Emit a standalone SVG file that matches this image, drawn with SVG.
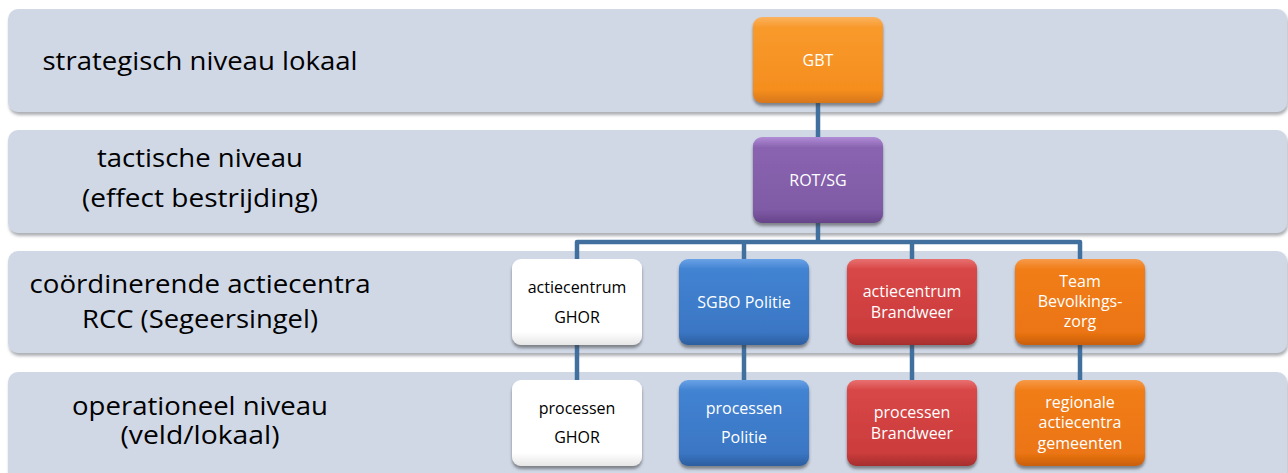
<svg xmlns="http://www.w3.org/2000/svg" width="1288" height="473" viewBox="0 0 1288 473">
  <defs>
    <filter id="bandShadow" x="-2%" y="-10%" width="104%" height="125%">
      <feGaussianBlur in="SourceAlpha" stdDeviation="1.5"/>
      <feOffset dx="1" dy="3" result="b"/>
      <feFlood flood-color="#6b6f78" flood-opacity="0.55"/>
      <feComposite in2="b" operator="in"/>
      <feMerge><feMergeNode/><feMergeNode in="SourceGraphic"/></feMerge>
    </filter>
    <filter id="nodeShadow" x="-10%" y="-10%" width="120%" height="125%">
      <feGaussianBlur in="SourceAlpha" stdDeviation="1.6"/>
      <feOffset dx="0" dy="2.5" result="b"/>
      <feFlood flood-color="#3a3a3a" flood-opacity="0.55"/>
      <feComposite in2="b" operator="in"/>
      <feMerge><feMergeNode/><feMergeNode in="SourceGraphic"/></feMerge>
    </filter>
    <linearGradient id="gOrangeTop" x1="0" y1="0" x2="0" y2="1">
      <stop offset="0" stop-color="#fbb25e"/>
      <stop offset="0.12" stop-color="#f89a2c"/>
      <stop offset="0.85" stop-color="#f58e1e"/>
      <stop offset="1" stop-color="#d7761a"/>
    </linearGradient>
    <linearGradient id="gPurple" x1="0" y1="0" x2="0" y2="1">
      <stop offset="0" stop-color="#b08bd6"/>
      <stop offset="0.12" stop-color="#8a64b0"/>
      <stop offset="0.85" stop-color="#7f5aa5"/>
      <stop offset="1" stop-color="#65448a"/>
    </linearGradient>
    <linearGradient id="gWhite" x1="0" y1="0" x2="0" y2="1">
      <stop offset="0" stop-color="#ffffff"/>
      <stop offset="0.85" stop-color="#ffffff"/>
      <stop offset="1" stop-color="#e6e6e6"/>
    </linearGradient>
    <linearGradient id="gBlue" x1="0" y1="0" x2="0" y2="1">
      <stop offset="0" stop-color="#6aa2e6"/>
      <stop offset="0.12" stop-color="#4283d2"/>
      <stop offset="0.85" stop-color="#3a76c4"/>
      <stop offset="1" stop-color="#2c5e9f"/>
    </linearGradient>
    <linearGradient id="gRed" x1="0" y1="0" x2="0" y2="1">
      <stop offset="0" stop-color="#e87070"/>
      <stop offset="0.12" stop-color="#d84747"/>
      <stop offset="0.85" stop-color="#cc3c3c"/>
      <stop offset="1" stop-color="#a52e2e"/>
    </linearGradient>
    <linearGradient id="gOrange" x1="0" y1="0" x2="0" y2="1">
      <stop offset="0" stop-color="#f79a4a"/>
      <stop offset="0.12" stop-color="#f07d18"/>
      <stop offset="0.85" stop-color="#ec7512"/>
      <stop offset="1" stop-color="#c85f0e"/>
    </linearGradient>
  </defs>
  <style>
    .band { fill: #d0d8e6; filter: url(#bandShadow); }
    .lvl { font-family: "Open Sans", "Liberation Sans", sans-serif; font-size: 25px; fill: #000; text-anchor: middle; }
    .node rect { filter: url(#nodeShadow); }
    .lbl { font-family: "Open Sans", "Liberation Sans", sans-serif; font-size: 16px; text-anchor: middle; fill: #ffffff; }
    .dark { fill: #000000; }
    .wire { fill: none; stroke: #41709f; stroke-width: 4.5; stroke-linejoin: round; }
  </style>

  <rect width="1288" height="473" fill="#ffffff"/>

  <!-- level bands -->
  <g id="levels">
    <rect class="band" x="8" y="9" width="1279" height="103" rx="10"/>
    <rect class="band" x="8" y="130" width="1279" height="103" rx="10"/>
    <rect class="band" x="8" y="251" width="1279" height="102" rx="10"/>
    <rect class="band" x="8" y="372" width="1279" height="110" rx="10"/>
    <text class="lvl" x="200" y="70" textLength="315" lengthAdjust="spacingAndGlyphs">strategisch niveau lokaal</text>
    <text class="lvl" x="200" y="167" textLength="206" lengthAdjust="spacingAndGlyphs">tactische niveau</text>
    <text class="lvl" x="200" y="207" textLength="236" lengthAdjust="spacingAndGlyphs">(effect bestrijding)</text>
    <text class="lvl" x="200" y="293" textLength="341" lengthAdjust="spacingAndGlyphs">coördinerende actiecentra</text>
    <text class="lvl" x="200" y="328" textLength="236" lengthAdjust="spacingAndGlyphs">RCC (Segeersingel)</text>
    <text class="lvl" x="200" y="415" textLength="256" lengthAdjust="spacingAndGlyphs">operationeel niveau</text>
    <text class="lvl" x="200" y="444" textLength="159" lengthAdjust="spacingAndGlyphs">(veld/lokaal)</text>
  </g>

  <!-- connectors -->
  <g id="connectors">
    <path class="wire" d="M818 103 V137"/>
    <path class="wire" d="M818 223 V242"/>
    <path class="wire" d="M577 259 V242 H1080 V259"/>
    <path class="wire" d="M744 242 V259"/>
    <path class="wire" d="M912 242 V259"/>
    <path class="wire" d="M577 345 V380"/>
    <path class="wire" d="M744 345 V380"/>
    <path class="wire" d="M912 345 V380"/>
    <path class="wire" d="M1080 345 V380"/>
  </g>

  <g id="gbt" class="node">
    <rect x="753" y="17" width="130" height="86" rx="9" fill="url(#gOrangeTop)"/>
    <text class="lbl" x="818" y="66">GBT</text>
  </g>
  <g id="rot-sg" class="node">
    <rect x="753" y="137" width="130" height="86" rx="9" fill="url(#gPurple)"/>
    <text class="lbl" x="818" y="186">ROT/SG</text>
  </g>

  <g id="ac-ghor" class="node">
    <rect x="512" y="259" width="130" height="86" rx="9" fill="url(#gWhite)"/>
    <text class="lbl dark" x="577" y="293">actiecentrum</text>
    <text class="lbl dark" x="577" y="323">GHOR</text>
  </g>
  <g id="sgbo-politie" class="node">
    <rect x="679" y="259" width="130" height="86" rx="9" fill="url(#gBlue)"/>
    <text class="lbl" x="744" y="308">SGBO Politie</text>
  </g>
  <g id="ac-brandweer" class="node">
    <rect x="847" y="259" width="130" height="86" rx="9" fill="url(#gRed)"/>
    <text class="lbl" x="912" y="297">actiecentrum</text>
    <text class="lbl" x="912" y="318">Brandweer</text>
  </g>
  <g id="team-bevolkingszorg" class="node">
    <rect x="1015" y="259" width="130" height="86" rx="9" fill="url(#gOrange)"/>
    <text class="lbl" x="1080" y="287">Team</text>
    <text class="lbl" x="1080" y="307">Bevolkings-</text>
    <text class="lbl" x="1080" y="327">zorg</text>
  </g>

  <g id="proc-ghor" class="node">
    <rect x="512" y="380" width="130" height="86" rx="9" fill="url(#gWhite)"/>
    <text class="lbl dark" x="577" y="414">processen</text>
    <text class="lbl dark" x="577" y="443">GHOR</text>
  </g>
  <g id="proc-politie" class="node">
    <rect x="679" y="380" width="130" height="86" rx="9" fill="url(#gBlue)"/>
    <text class="lbl" x="744" y="414">processen</text>
    <text class="lbl" x="744" y="443">Politie</text>
  </g>
  <g id="proc-brandweer" class="node">
    <rect x="847" y="380" width="130" height="86" rx="9" fill="url(#gRed)"/>
    <text class="lbl" x="912" y="418">processen</text>
    <text class="lbl" x="912" y="439">Brandweer</text>
  </g>
  <g id="regionale-actiecentra" class="node">
    <rect x="1015" y="380" width="130" height="86" rx="9" fill="url(#gOrange)"/>
    <text class="lbl" x="1080" y="408">regionale</text>
    <text class="lbl" x="1080" y="428">actiecentra</text>
    <text class="lbl" x="1080" y="449">gemeenten</text>
  </g>
</svg>
